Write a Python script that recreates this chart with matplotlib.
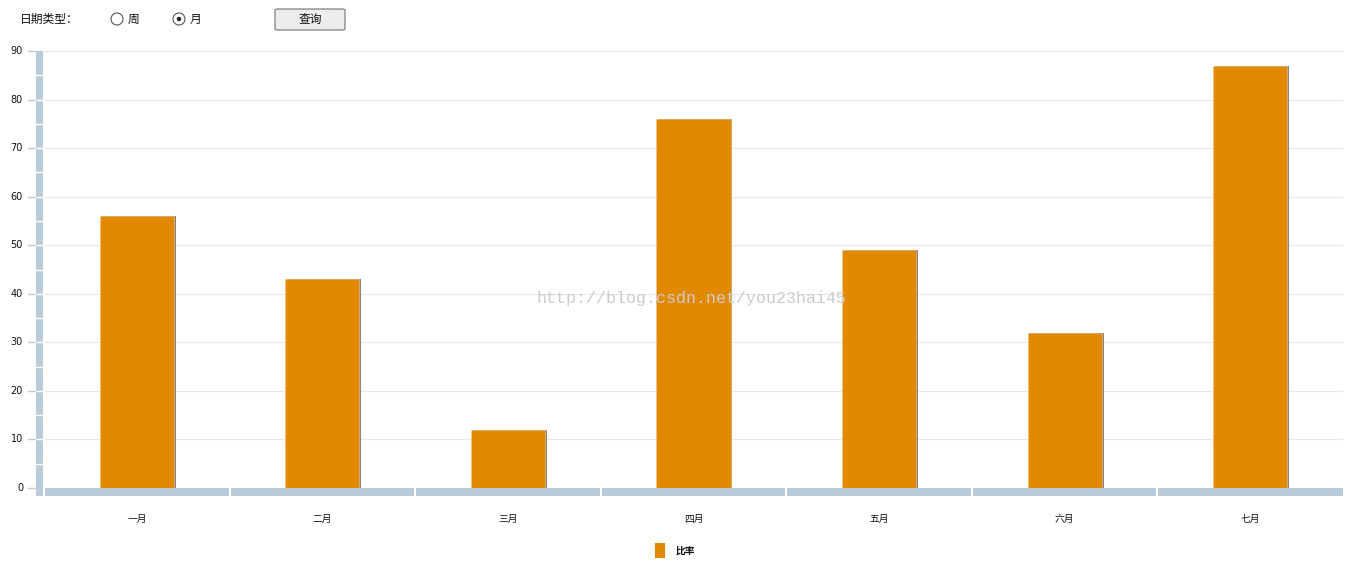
import matplotlib
matplotlib.use("Agg")
import matplotlib.pyplot as plt
from matplotlib.patches import Rectangle, Ellipse, FancyBboxPatch
from matplotlib.transforms import blended_transform_factory
import numpy as np

plt.rcParams['font.family'] = ['Noto Sans CJK SC', 'DejaVu Sans']

categories = ['一月', '二月', '三月', '四月', '五月', '六月', '七月']
values = [56, 43, 12, 76, 49, 32, 87]
series_name = '比率'
y_ticks = [0, 10, 20, 30, 40, 50, 60, 70, 80, 90]

W, H = 1364, 576
fig = plt.figure(figsize=(W / 100, H / 100), dpi=100)

def fx(px):
    return px / W

def fy(py):
    return 1 - py / H

ax = fig.add_axes([fx(44), fy(488), fx(1343) - fx(44), fy(51) - fy(488)])
ax.set_xlim(-0.5, len(categories) - 0.5)
ax.set_ylim(0, 90)
for s in ax.spines.values():
    s.set_visible(False)
ax.set_xticks([])
ax.set_yticks([])

orange = '#e38900'
band = '#b9cad9'

# grid
for t in y_ticks[1:]:
    ax.axhline(t, color='#e8e8e8', lw=0.8, zorder=0)

x = np.arange(len(categories))
bw = 0.4
# shadow
ax.bar(x + 0.01, values, width=bw, color='#6e6e6e', alpha=0.85, zorder=2)
ax.bar(x, values, width=bw, color=orange, zorder=3, edgecolor='#f0c890', linewidth=0.4)

trans_x = ax.get_xaxis_transform()
for i, c in enumerate(categories):
    ax.text(i, -0.07, c, transform=trans_x, ha='center', va='center', fontsize=7, color='#111111')

tr = blended_transform_factory(fig.transFigure, ax.transData)
for t in y_ticks:
    ax.text(fx(23), t, str(t), transform=tr, ha='right', va='center', fontsize=7, color='#111111',
            family='DejaVu Sans')
    ax.add_line(plt.Line2D([fx(28), fx(35)], [t, t], transform=tr, color=band, lw=1, clip_on=False))

# left band with white separators every 5
ax.add_patch(Rectangle((fx(36), -1.55), fx(43.3) - fx(36), 91.55, transform=tr,
                       facecolor=band, edgecolor='none', clip_on=False, zorder=1))
for t in np.arange(5, 90, 5):
    ax.add_line(plt.Line2D([fx(36), fx(43.3)], [t, t], transform=tr, color='white', lw=1, clip_on=False, zorder=1.5))

# bottom band with separators at category boundaries
ax.add_patch(Rectangle((-0.495, -1.55), len(categories) - 0.005, 1.55, transform=ax.transData,
                       facecolor=band, edgecolor='none', clip_on=False, zorder=4))
for b in np.arange(0.5, len(categories) - 0.5, 1):
    ax.add_line(plt.Line2D([b, b], [-1.55, 0], color='white', lw=1.5, clip_on=False, zorder=5))

# watermark
fig.text(fx(692), fy(298), 'http://blog.csdn.net/you23hai45', ha='center', va='center',
         fontsize=12, color='#cccccc', family='Liberation Mono', zorder=10)

# legend
fig.patches.append(Rectangle((fx(655), fy(558)), fx(665) - fx(655), fy(543) - fy(558),
                             transform=fig.transFigure, facecolor=orange, edgecolor='none'))
fig.text(fx(676), fy(551), series_name, ha='left', va='center', fontsize=7, fontweight='bold', color='#111111')

# top controls
fig.text(fx(20), fy(19), '日期类型：', ha='left', va='center', fontsize=8.5, color='#111111')
for cx, lab, sel in [(117, '周', False), (179, '月', True)]:
    fig.patches.append(Ellipse((fx(cx), fy(19)), 12 / W, 12 / H, transform=fig.transFigure,
                               facecolor='white', edgecolor='#555555', lw=0.8))
    if sel:
        fig.patches.append(Ellipse((fx(cx), fy(19)), 4.5 / W, 4.5 / H, transform=fig.transFigure,
                                   facecolor='#222222', edgecolor='none'))
    fig.text(fx(cx + 11), fy(19), lab, ha='left', va='center', fontsize=8.5, color='#111111')

fig.patches.append(FancyBboxPatch((fx(275), fy(30)), fx(345) - fx(275), fy(9) - fy(30),
                                  boxstyle='round,pad=0,rounding_size=0.002', transform=fig.transFigure,
                                  facecolor='#ececec', edgecolor='#707070', lw=0.8))
fig.text(fx(310), fy(19.5), '查询', ha='center', va='center', fontsize=8.5, color='#111111')

fig.savefig('out.png', dpi=100)
